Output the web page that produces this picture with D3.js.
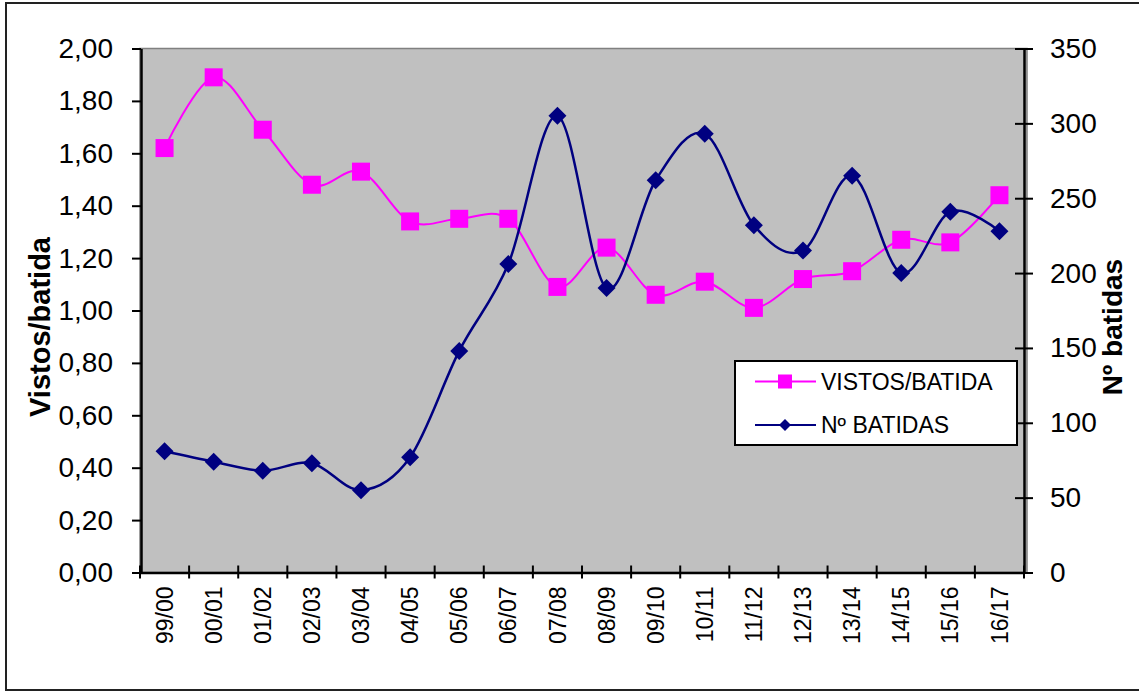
<!DOCTYPE html>
<html>
<head>
<meta charset="utf-8">
<script src="https://cdnjs.cloudflare.com/ajax/libs/d3/7.8.5/d3.min.js"></script>
<style>
  body { margin: 0; background: #fff; }
  svg { display: block; font-family: "Liberation Sans", Arial, sans-serif; }
</style>
</head>
<body>
<div class="chart"></div>
<script>
/* Vistos por batida e nº de batidas por temporada */

var categories = ["99/00", "00/01", "01/02", "02/03", "03/04", "04/05", "05/06", "06/07", "07/08",
                  "08/09", "09/10", "10/11", "11/12", "12/13", "13/14", "14/15", "15/16", "16/17"];

var vistos = [1.62, 1.89, 1.69, 1.48, 1.53, 1.34, 1.35, 1.35, 1.09,
              1.24, 1.06, 1.11, 1.01, 1.12, 1.15, 1.27, 1.26, 1.44];

var batidas = [81, 74, 68, 73, 55, 77, 148, 206, 305,
               190, 262, 293, 232, 215, 265, 200, 241, 228];

var leftTicks = [0, 0.2, 0.4, 0.6, 0.8, 1.0, 1.2, 1.4, 1.6, 1.8, 2.0];
var rightTicks = [0, 50, 100, 150, 200, 250, 300, 350];

var seriesNames = ["VISTOS/BATIDA", "Nº BATIDAS"];

$ready();

function $ready() {

  var width = 1139, height = 692;
  var left = 140, right = 1024, top = 48.5, bottom = 572.5;

  var svg = d3.select(".chart")
      .append("svg")
      .attr("width", width)
      .attr("height", height);

  // outer frame (right edge runs off the picture)
  svg.append("rect")
      .attr("x", 6).attr("y", 3)
      .attr("width", 1150).attr("height", 687)
      .style("fill", "white")
      .style("stroke", "#222")
      .style("stroke-width", 2);

  var x = d3.scaleBand().domain(categories).range([left, right]);
  var yL = d3.scaleLinear().domain([0, 2]).range([bottom, top]);
  var yR = d3.scaleLinear().domain([0, 350]).range([bottom, top]);
  var cx = function (d, i) { return x(categories[i]) + x.bandwidth() / 2; };

  // plot area
  svg.append("rect")
      .attr("x", left).attr("y", top)
      .attr("width", right - left + 3).attr("height", bottom - top)
      .style("fill", "#c0c0c0")
      .style("stroke", "#808080")
      .style("stroke-width", 1.5);

  // left axis
  var gL = svg.append("g")
      .attr("transform", "translate(" + (left + 1) + ",0)")
      .call(d3.axisLeft(yL).tickValues(leftTicks).tickSize(9).tickSizeOuter(0).tickPadding(19)
        .tickFormat(function (d) { return d.toFixed(2).replace(".", ","); }));

  // right axis, ticks cross the line
  var gR = svg.append("g")
      .attr("transform", "translate(" + right + ",0)")
      .call(d3.axisRight(yR).tickValues(rightTicks).tickSize(9).tickSizeOuter(0).tickPadding(17));
  gR.selectAll(".tick line").attr("x1", -9);

  // bottom axis: labels only, ticks drawn between categories
  var gB = svg.append("g")
      .attr("transform", "translate(0," + bottom + ")")
      .call(d3.axisBottom(x).tickSize(0).tickSizeOuter(0));
  gB.selectAll(".tick text")
      .attr("transform", "rotate(-90)")
      .attr("x", -14).attr("y", 0)
      .attr("dy", "0.35em")
      .style("text-anchor", "end")
      .style("font-size", "23px");

  var edges = categories.map(function (c) { return x(c); }).concat([right]);
  gB.selectAll(".sep")
      .data(edges)
      .enter()
      .append("line")
      .attr("x1", function (d) { return d; }).attr("x2", function (d) { return d; })
      .attr("y1", -7).attr("y2", 6)
      .style("stroke", "black")
      .style("stroke-width", 2);

  [gL, gR, gB].forEach(function (g) {
    g.select(".domain").style("stroke", "black").style("stroke-width", 2.5);
    g.selectAll(".tick line").style("stroke", "black").style("stroke-width", 2);
    g.selectAll("text").style("fill", "black").style("font-family", "'Liberation Sans', Arial, sans-serif");
  });
  gL.selectAll(".tick text").style("font-size", "28px");
  gR.selectAll(".tick text").style("font-size", "28px");

  // smoothed lines like the spreadsheet
  var curve = d3.curveCardinal.tension(0);

  var lineV = d3.line()
      .x(cx)
      .y(function (d) { return yL(d); })
      .curve(curve);

  var lineB = d3.line()
      .x(cx)
      .y(function (d) { return yR(d); })
      .curve(curve);

  svg.append("path")
      .attr("d", lineV(vistos))
      .style("fill", "none")
      .style("stroke", "#ff00ff")
      .style("stroke-width", 2);

  svg.selectAll(".sq")
      .data(vistos)
      .enter()
      .append("rect")
      .attr("class", "sq")
      .attr("x", function (d, i) { return cx(d, i) - 9; })
      .attr("y", function (d) { return yL(d) - 9; })
      .attr("width", 18).attr("height", 18)
      .style("fill", "#ff00ff");

  svg.append("path")
      .attr("d", lineB(batidas))
      .style("fill", "none")
      .style("stroke", "#000080")
      .style("stroke-width", 2.5);

  var diamond = d3.symbol().type(d3.symbolSquare).size(162);
  svg.selectAll(".dm")
      .data(batidas)
      .enter()
      .append("path")
      .attr("class", "dm")
      .attr("d", diamond)
      .attr("transform", function (d, i) { return "translate(" + cx(d, i) + "," + yR(d) + ") rotate(45)"; })
      .style("fill", "#000080");

  // legend
  var lg = svg.append("g");
  lg.append("rect")
      .attr("x", 735).attr("y", 361)
      .attr("width", 282).attr("height", 84)
      .style("fill", "white")
      .style("stroke", "black")
      .style("stroke-width", 2);

  var colors = ["#ff00ff", "#000080"];
  var rows = [381.5, 425];
  seriesNames.forEach(function (name, i) {
    lg.append("line")
        .attr("x1", 755).attr("x2", 816)
        .attr("y1", rows[i]).attr("y2", rows[i])
        .style("stroke", colors[i])
        .style("stroke-width", 2);
    if (i === 0) {
      lg.append("rect")
          .attr("x", 778).attr("y", rows[i] - 7)
          .attr("width", 14).attr("height", 14)
          .style("fill", colors[i]);
    } else {
      lg.append("path")
          .attr("d", d3.symbol().type(d3.symbolSquare).size(72))
          .attr("transform", "translate(785," + rows[i] + ") rotate(45)")
          .style("fill", colors[i]);
    }
    lg.append("text")
        .attr("x", 821).attr("y", rows[i])
        .attr("dy", "0.35em")
        .style("font-size", "23px")
        .text(name);
  });

  // axis titles
  svg.append("text")
      .attr("transform", "translate(50,327) rotate(-90)")
      .style("text-anchor", "middle")
      .style("font-weight", "bold")
      .style("font-size", "29px")
      .text("Vistos/batida");

  svg.append("text")
      .attr("transform", "translate(1122,327) rotate(-90)")
      .style("text-anchor", "middle")
      .style("font-weight", "bold")
      .style("font-size", "28px")
      .text("Nº batidas");
}
</script>
</body>
</html>
